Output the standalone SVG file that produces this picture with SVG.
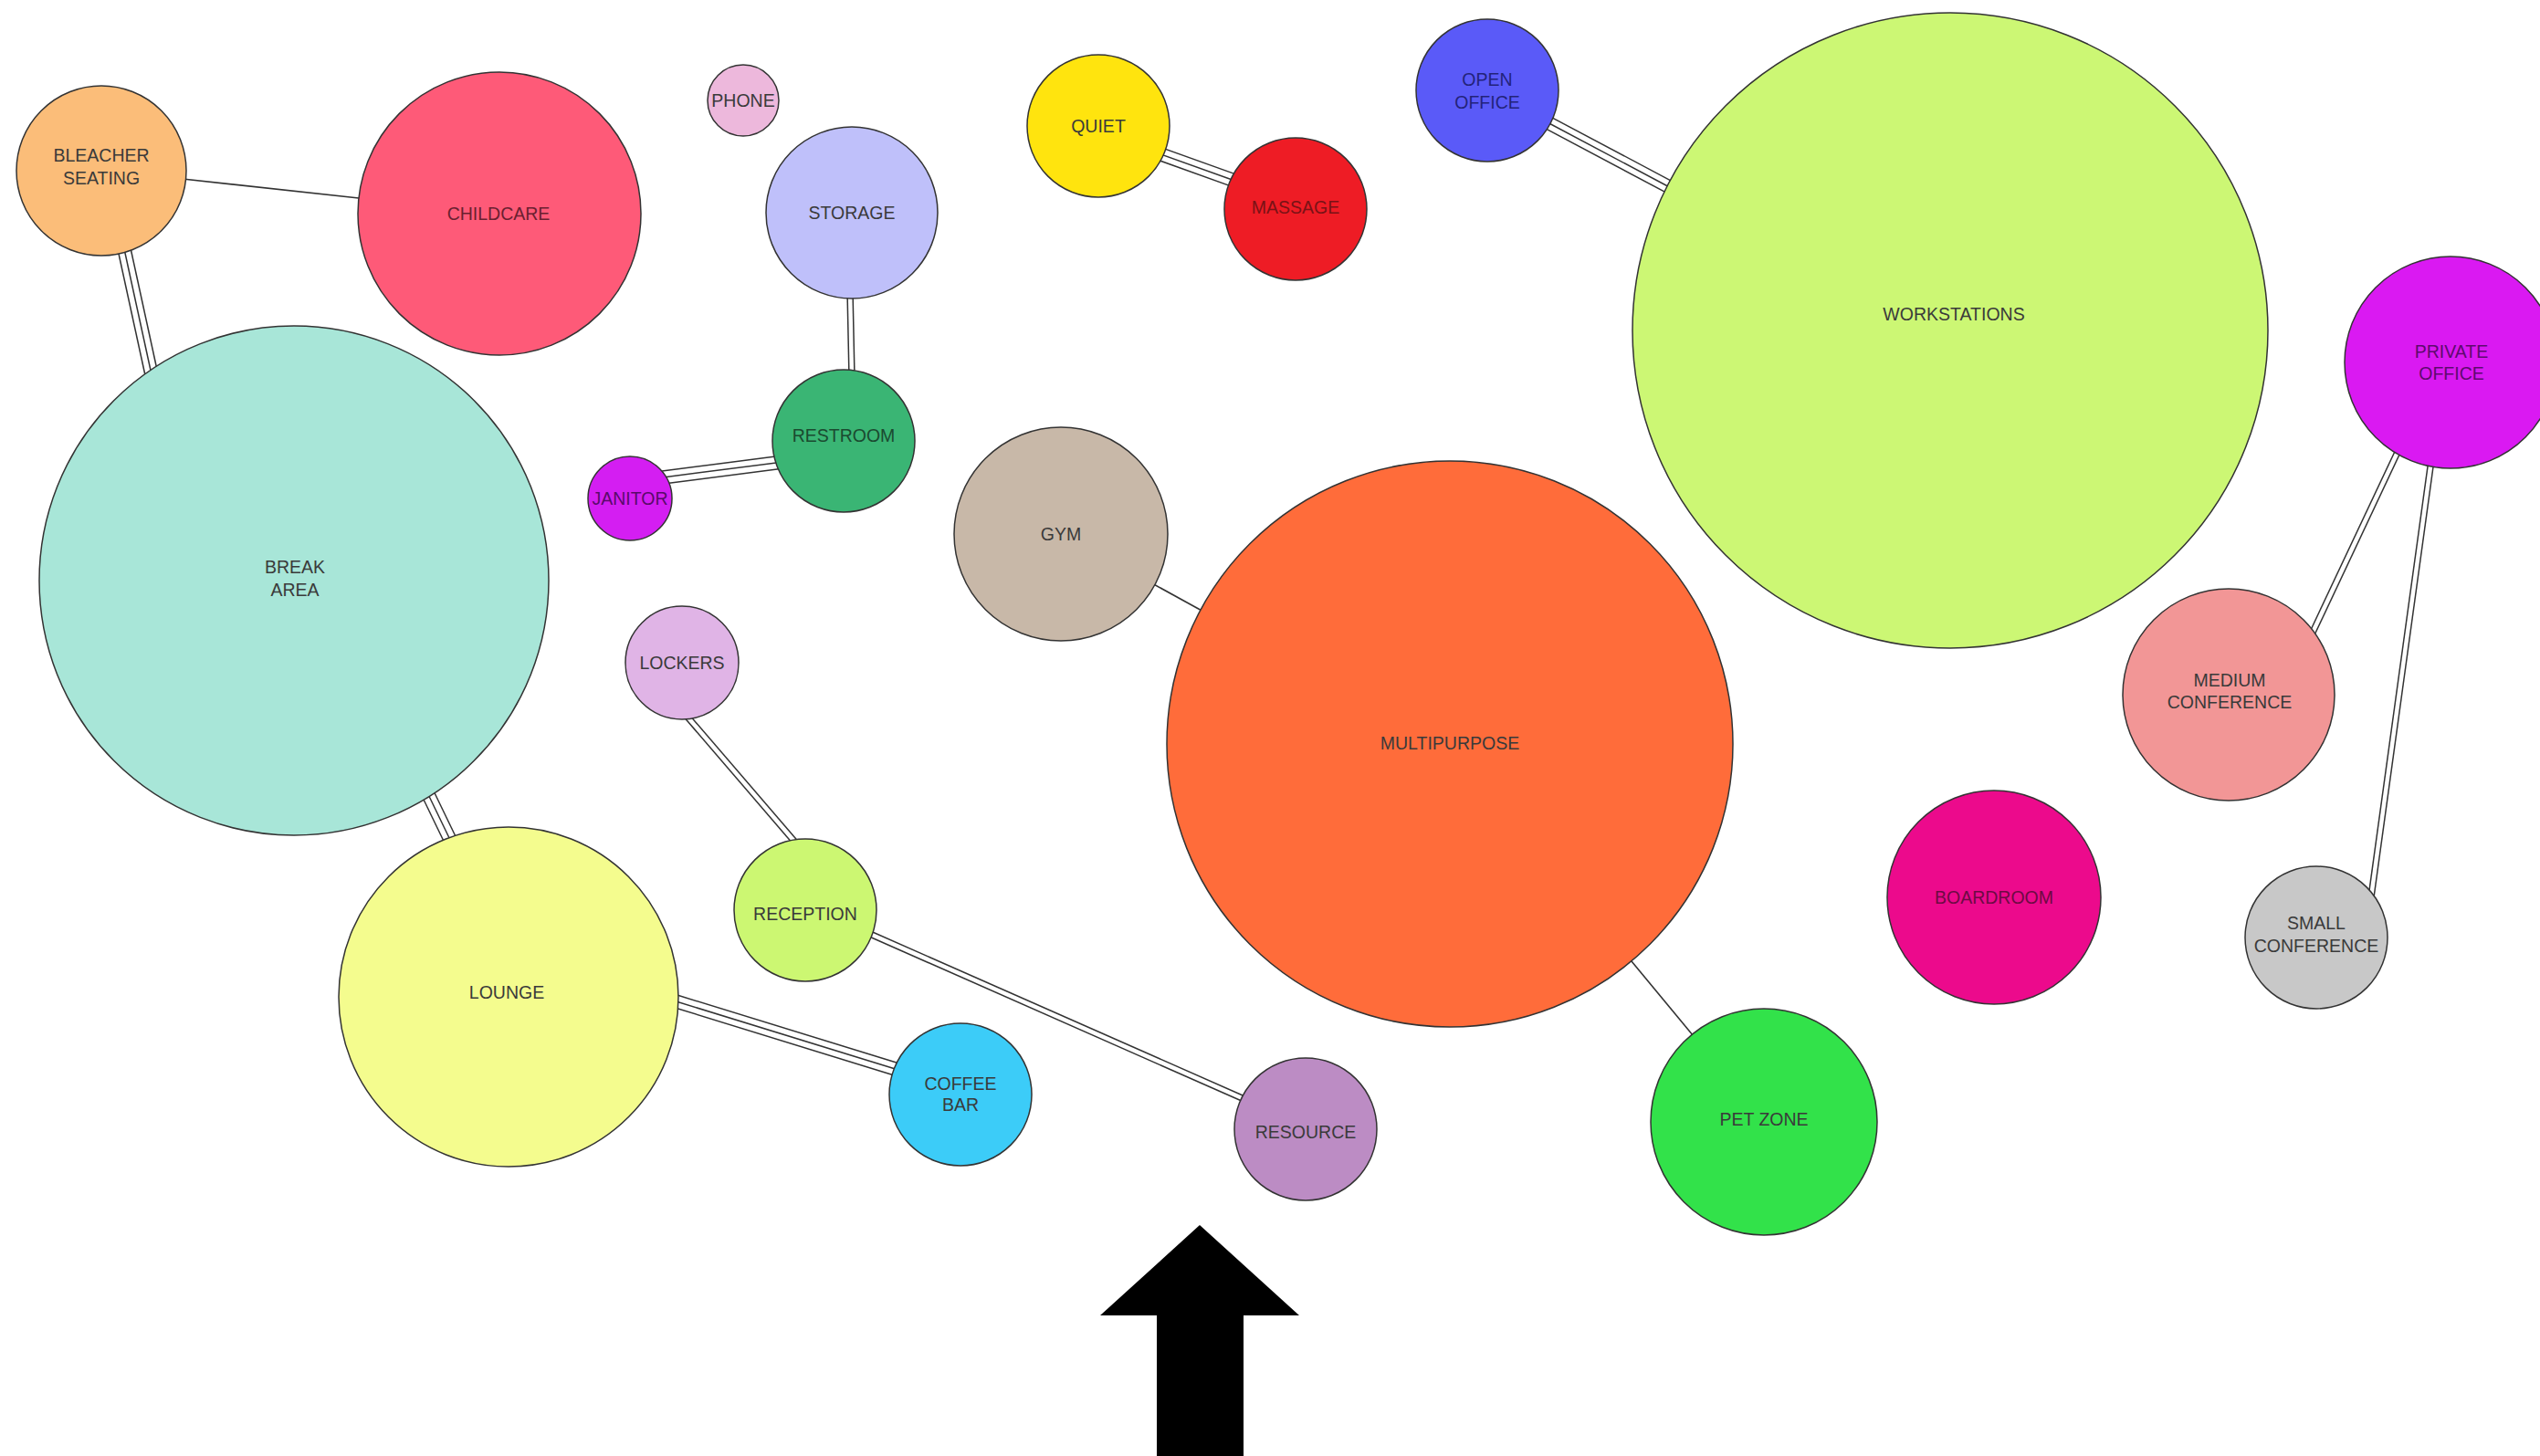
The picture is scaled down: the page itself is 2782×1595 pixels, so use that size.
<svg xmlns="http://www.w3.org/2000/svg" xmlns:xlink="http://www.w3.org/1999/xlink" width="2782" height="1595" viewBox="0 0 2782 1595">
<style>
  .node { stroke: #333; stroke-width: 1.5; }
  .lbl { font-family: "Liberation Sans", Arial, sans-serif; font-size: 19.5px; fill: #3a3a3a; text-anchor: middle; }
  .single { stroke: #333; stroke-width: 1.6; fill: none; }
  .o2 { stroke: #333; stroke-width: 7.5; fill: none; }
  .i2 { stroke: #fff; stroke-width: 4.5; fill: none; }
  .o3 { stroke: #333; stroke-width: 15.5; fill: none; }
  .i3 { stroke: #fff; stroke-width: 12.5; fill: none; }
  .m3 { stroke: #333; stroke-width: 1.5; fill: none; }
  .arrow { fill: #000; }
</style>
<defs>
  <path id="p-bl-ch" d="M200,196 L402,218"/>
  <path id="p-bl-br" d="M135,268 L167,415"/>
  <path id="p-st-rr" d="M931,318 L933,414"/>
  <path id="p-ja-rr" d="M726,523 L858,506"/>
  <path id="p-qu-ma" d="M1266,167 L1358,200"/>
  <path id="p-oo-ws" d="M1691,132 L1836,209"/>
  <path id="p-gy-mp" d="M1260,638 L1320,671"/>
  <path id="p-mp-pz" d="M1782,1047 L1859,1140"/>
  <path id="p-po-mc" d="M2628,491 L2531,697"/>
  <path id="p-po-sc" d="M2663,504 L2597,983"/>
  <path id="p-br-lo" d="M466,864 L494,922"/>
  <path id="p-lo-cb" d="M734,1095 L987,1173"/>
  <path id="p-lk-rc" d="M751,783 L873,925"/>
  <path id="p-rc-rs" d="M946,1020 L1365,1205"/>
</defs>

<g id="connectors">
  <use xlink:href="#p-bl-ch" class="single"/>
  <use xlink:href="#p-gy-mp" class="single"/>
  <use xlink:href="#p-mp-pz" class="single"/>

  <use xlink:href="#p-st-rr" class="o2"/><use xlink:href="#p-st-rr" class="i2"/>
  <use xlink:href="#p-po-mc" class="o2"/><use xlink:href="#p-po-mc" class="i2"/>
  <use xlink:href="#p-po-sc" class="o2"/><use xlink:href="#p-po-sc" class="i2"/>
  <use xlink:href="#p-lk-rc" class="o2"/><use xlink:href="#p-lk-rc" class="i2"/>
  <use xlink:href="#p-rc-rs" class="o2"/><use xlink:href="#p-rc-rs" class="i2"/>

  <use xlink:href="#p-bl-br" class="o3"/><use xlink:href="#p-bl-br" class="i3"/><use xlink:href="#p-bl-br" class="m3"/>
  <use xlink:href="#p-ja-rr" class="o3"/><use xlink:href="#p-ja-rr" class="i3"/><use xlink:href="#p-ja-rr" class="m3"/>
  <use xlink:href="#p-qu-ma" class="o3"/><use xlink:href="#p-qu-ma" class="i3"/><use xlink:href="#p-qu-ma" class="m3"/>
  <use xlink:href="#p-oo-ws" class="o3"/><use xlink:href="#p-oo-ws" class="i3"/><use xlink:href="#p-oo-ws" class="m3"/>
  <use xlink:href="#p-br-lo" class="o3"/><use xlink:href="#p-br-lo" class="i3"/><use xlink:href="#p-br-lo" class="m3"/>
  <use xlink:href="#p-lo-cb" class="o3"/><use xlink:href="#p-lo-cb" class="i3"/><use xlink:href="#p-lo-cb" class="m3"/>
</g>

<g id="bleacher-seating">
  <circle class="node" cx="111" cy="187" r="93" fill="#FBBD79"/>
  <text class="lbl" x="111" y="177">BLEACHER</text>
  <text class="lbl" x="111" y="202">SEATING</text>
</g>
<g id="childcare">
  <circle class="node" cx="547" cy="234" r="155" fill="#FE5A78"/>
  <text class="lbl" x="546" y="241" style="fill:#6a2030">CHILDCARE</text>
</g>
<g id="phone">
  <circle class="node" cx="814" cy="110" r="39" fill="#EDB8DC"/>
  <text class="lbl" x="814" y="117">PHONE</text>
</g>
<g id="storage">
  <circle class="node" cx="933" cy="233" r="94" fill="#BFC0FA"/>
  <text class="lbl" x="933" y="240">STORAGE</text>
</g>
<g id="quiet">
  <circle class="node" cx="1203" cy="138" r="78" fill="#FFE40E"/>
  <text class="lbl" x="1203" y="145">QUIET</text>
</g>
<g id="massage">
  <circle class="node" cx="1419" cy="229" r="78" fill="#EE1C25"/>
  <text class="lbl" x="1419" y="234" style="fill:#7a1216">MASSAGE</text>
</g>
<g id="open-office">
  <circle class="node" cx="1629" cy="99" r="78" fill="#5A5AF8"/>
  <text class="lbl" x="1629" y="94" style="fill:#23237a">OPEN</text>
  <text class="lbl" x="1629" y="119" style="fill:#23237a">OFFICE</text>
</g>
<g id="workstations">
  <circle class="node" cx="2136" cy="362" r="348" fill="#CCF774"/>
  <text class="lbl" x="2140" y="351">WORKSTATIONS</text>
</g>
<g id="private-office">
  <circle class="node" cx="2684" cy="397" r="116" fill="#DA19F2"/>
  <text class="lbl" x="2685" y="392" style="fill:#5e0a6e">PRIVATE</text>
  <text class="lbl" x="2685" y="416" style="fill:#5e0a6e">OFFICE</text>
</g>
<g id="restroom">
  <circle class="node" cx="924" cy="483" r="78" fill="#3AB574"/>
  <text class="lbl" x="924" y="484" style="fill:#1a4a30">RESTROOM</text>
</g>
<g id="janitor">
  <circle class="node" cx="690" cy="546" r="46" fill="#D41EF2"/>
  <text class="lbl" x="690" y="553" style="fill:#5a0a6a">JANITOR</text>
</g>
<g id="break-area">
  <circle class="node" cx="322" cy="636" r="279" fill="#A8E6D8"/>
  <text class="lbl" x="323" y="628">BREAK</text>
  <text class="lbl" x="323" y="653">AREA</text>
</g>
<g id="gym">
  <circle class="node" cx="1162" cy="585" r="117" fill="#C8B8A8"/>
  <text class="lbl" x="1162" y="592">GYM</text>
</g>
<g id="multipurpose">
  <circle class="node" cx="1588" cy="815" r="310" fill="#FF6C3A"/>
  <text class="lbl" x="1588" y="821">MULTIPURPOSE</text>
</g>
<g id="lockers">
  <circle class="node" cx="747" cy="726" r="62" fill="#E0B4E6"/>
  <text class="lbl" x="747" y="733">LOCKERS</text>
</g>
<g id="medium-conference">
  <circle class="node" cx="2441" cy="761" r="116" fill="#F29696"/>
  <text class="lbl" x="2442" y="752">MEDIUM</text>
  <text class="lbl" x="2442" y="776">CONFERENCE</text>
</g>
<g id="reception">
  <circle class="node" cx="882" cy="997" r="78" fill="#CCF772"/>
  <text class="lbl" x="882" y="1008">RECEPTION</text>
</g>
<g id="boardroom">
  <circle class="node" cx="2184" cy="983" r="117" fill="#EC0A8C"/>
  <text class="lbl" x="2184" y="990" style="fill:#6e0a44">BOARDROOM</text>
</g>
<g id="small-conference">
  <circle class="node" cx="2537" cy="1027" r="78" fill="#C8C8C8"/>
  <text class="lbl" x="2537" y="1018">SMALL</text>
  <text class="lbl" x="2537" y="1043">CONFERENCE</text>
</g>
<g id="lounge">
  <circle class="node" cx="557" cy="1092" r="186" fill="#F4FC8E"/>
  <text class="lbl" x="555" y="1094">LOUNGE</text>
</g>
<g id="coffee-bar">
  <circle class="node" cx="1052" cy="1199" r="78" fill="#3CCCF8"/>
  <text class="lbl" x="1052" y="1194">COFFEE</text>
  <text class="lbl" x="1052" y="1217">BAR</text>
</g>
<g id="resource">
  <circle class="node" cx="1430" cy="1237" r="78" fill="#BC8CC4"/>
  <text class="lbl" x="1430" y="1247">RESOURCE</text>
</g>
<g id="pet-zone">
  <circle class="node" cx="1932" cy="1229" r="124" fill="#32E24A"/>
  <text class="lbl" x="1932" y="1233">PET ZONE</text>
</g>

<g id="entry-arrow">
  <polygon class="arrow" points="1314,1342 1423,1441 1362,1441 1362,1595 1267,1595 1267,1441 1205,1441"/>
</g>
</svg>
